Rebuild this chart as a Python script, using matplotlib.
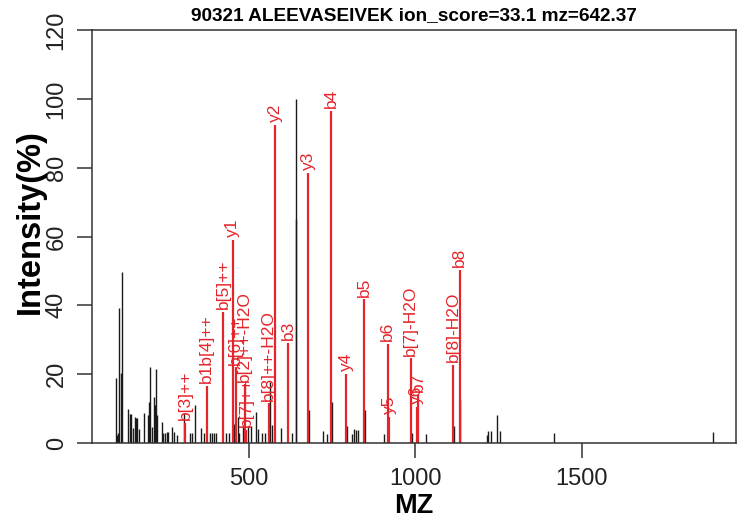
import matplotlib
matplotlib.use("Agg")
import matplotlib.pyplot as plt

plt.rcParams['font.family'] = ['Liberation Sans', 'DejaVu Sans']

title = "90321 ALEEVASEIVEK ion_score=33.1 mz=642.37"

# all observed peaks (black)
peak_mz = [101.4, 105.3, 108.3, 112.3, 116.5, 121.3, 138.4, 143.5, 148.3, 153.4,
           158.6, 162.5, 166.4, 172.4, 185.6, 197.6, 201.5, 204.5, 209.6, 216.6,
           219.6, 222.6, 226.5, 239.7, 244.5, 250.5, 255.6, 259.5, 269.8, 276.7,
           284.8, 305.8, 324.8, 329.9, 339.8, 357.8, 365.9, 384.9, 389.9, 394.8,
           402.0, 430.9, 439.9, 457.0, 466.9, 471.1, 482.0, 497.0, 508.0, 521.0,
           527.0, 540.3, 548.1, 563.1, 570.3, 598.3, 630.4, 643.4, 642.0, 682.4,
           724.5, 735.6, 749.5, 794.5, 811.7, 816.8, 822.8, 828.8, 848.5, 907.0,
           991.1, 1031.1, 1116.0, 1136.0, 1214.5, 1219.6, 1228.6, 1246.6, 1254.4,
           1418.0, 1892.8]
peak_int = [19.0, 2.4, 3.0, 39.2, 20.3, 49.6, 9.8, 8.3, 8.3, 4.3,
            7.5, 7.3, 7.3, 4.0, 8.6, 8.0, 12.0, 22.2, 4.7, 13.5,
            10.9, 21.4, 8.0, 6.2, 2.9, 2.9, 3.3, 3.3, 4.7, 3.1,
            2.4, 8.6, 3.0, 3.0, 11.0, 4.3, 3.0, 3.0, 3.0, 2.8,
            2.8, 2.8, 3.0, 5.6, 7.6, 2.8, 5.0, 4.8, 4.8, 9.1,
            4.2, 3.0, 3.0, 17.8, 5.3, 4.4, 2.8, 100.0, 65.0, 9.5,
            3.5, 2.6, 12.0, 5.0, 2.6, 4.0, 3.8, 3.8, 9.5, 2.6,
            3.0, 2.6, 5.0, 12.5, 2.4, 3.5, 3.4, 8.0, 3.4,
            2.9, 3.1]

# matched fragment ions (red)
ion_labels = ["b[3]++", "b1b[4]++", "b[5]++", "y1", "b[6]++", "b[2]++-H2O", "b[7]++",
              "b[8]++-H2O", "y2", "b3", "y3", "b4", "y4", "b5", "b6", "y5",
              "b[7]-H2O", "y6", "b7", "b[8]-H2O", "b8"]
ion_mz = [309.7, 374.9, 424.0, 451.9, 460.9, 489.0, 493.0,
          560.7, 580.3, 618.4, 678.5, 748.6, 792.8, 846.9, 917.8, 922.0,
          986.0, 1005.0, 1009.2, 1114.4, 1133.3]
ion_int = [5.9, 16.5, 38.1, 59.0, 22.0, 17.0, 3.8,
           11.5, 92.4, 29.0, 78.5, 96.5, 20.0, 41.7, 28.8, 7.6,
           24.6, 10.5, 14.0, 22.7, 50.3]

xticks = [500, 1000, 1500]
yticks = [0, 20, 40, 60, 80, 100, 120]

RED = '#e3262b'

fig = plt.figure(figsize=(7.45, 5.27), dpi=100)
ax = fig.add_axes([92/745, (527-443)/527, (736-92)/745, (443-30)/527])

ax.vlines(peak_mz, 0, peak_int, color='#1a1a1a', lw=1.0)
ax.vlines(ion_mz, 0, ion_int, color=RED, lw=1.6)
for lab, x, y in zip(ion_labels, ion_mz, ion_int):
    ax.annotate(lab, (x, y), xytext=(0, 2), textcoords='offset points',
                rotation=90, ha='center', va='bottom', color=RED, fontsize=12.5)

ax.set_xlim(30, 1963)
ax.set_ylim(0, 120)
ax.set_xticks(xticks)
ax.set_yticks(yticks)
ax.tick_params(axis='both', direction='out', length=11, width=1.1, color='#333333',
               labelsize=17, labelcolor='#222222')
ax.tick_params(axis='x', pad=7)
ax.tick_params(axis='y', pad=6.5)
for lab in ax.get_yticklabels():
    lab.set_rotation(90)
    lab.set_va('center')
for sp in ax.spines.values():
    sp.set_linewidth(1.1)
    sp.set_color('#333333')

ax.set_xlabel('MZ', fontsize=19.5, fontweight='bold', labelpad=2)
ax.set_ylabel('Intensity(%)', fontsize=23.5, fontweight='bold')
ax.yaxis.label.set_va('center')
ax.yaxis.set_label_coords(-0.095, 0.535)
ax.set_title(title, fontsize=13.7, fontweight='bold', pad=7)

fig.savefig('out.png', dpi=100)
